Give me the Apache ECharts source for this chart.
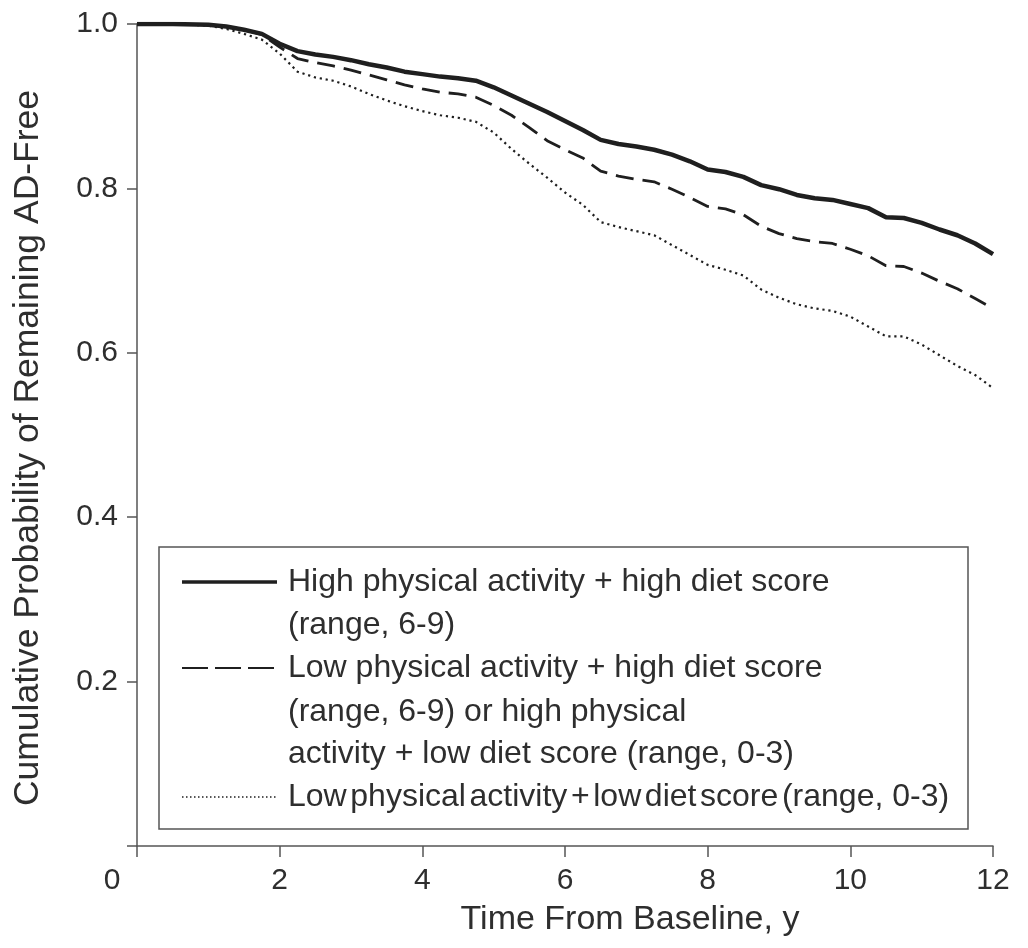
<!DOCTYPE html>
<html>
<head>
<meta charset="utf-8">
<script src="https://cdn.jsdelivr.net/npm/echarts@6/dist/echarts.min.js"></script>
<style>
html,body{margin:0;padding:0;background:#fff;}
#chart{width:1028px;height:948px;}
</style>
</head>
<body>
<div id="chart"></div>
<script>
// ---- Data ----
const times = [0, 0.5, 1.0, 1.25, 1.5, 1.75, 2.0, 2.25, 2.5, 2.75, 3.0, 3.25, 3.5, 3.75,
  4.0, 4.25, 4.5, 4.75, 5.0, 5.25, 5.5, 5.75, 6.0, 6.25, 6.5, 6.75, 7.0, 7.25, 7.5, 7.75,
  8.0, 8.25, 8.5, 8.75, 9.0, 9.25, 9.5, 9.75, 10.0, 10.25, 10.5, 10.75, 11.0, 11.25, 11.5, 11.75, 12.0];

const highPAHighDiet = [1.0, 1.0, 0.999, 0.997, 0.993, 0.988, 0.976, 0.967, 0.963, 0.960, 0.956, 0.951, 0.947, 0.942,
  0.939, 0.936, 0.934, 0.931, 0.923, 0.913, 0.903, 0.893, 0.882, 0.871, 0.859, 0.854, 0.851, 0.847, 0.841, 0.833,
  0.823, 0.820, 0.814, 0.804, 0.799, 0.792, 0.788, 0.786, 0.781, 0.776, 0.765, 0.764, 0.758, 0.750, 0.743, 0.733, 0.720];

const mixedGroup = [1.0, 1.0, 0.999, 0.997, 0.993, 0.987, 0.972, 0.958, 0.953, 0.949, 0.944, 0.938, 0.932, 0.926,
  0.921, 0.917, 0.915, 0.911, 0.901, 0.889, 0.874, 0.858, 0.847, 0.837, 0.821, 0.815, 0.811, 0.808, 0.799, 0.789,
  0.778, 0.775, 0.768, 0.754, 0.745, 0.739, 0.735, 0.733, 0.726, 0.718, 0.706, 0.705, 0.697, 0.687, 0.678, 0.666, 0.654];

const lowPALowDiet = [1.0, 1.0, 0.998, 0.994, 0.988, 0.981, 0.964, 0.942, 0.935, 0.931, 0.924, 0.915, 0.907, 0.900,
  0.894, 0.889, 0.886, 0.881, 0.868, 0.848, 0.830, 0.813, 0.795, 0.780, 0.759, 0.753, 0.748, 0.743, 0.731, 0.719,
  0.707, 0.701, 0.694, 0.677, 0.667, 0.659, 0.654, 0.651, 0.644, 0.632, 0.620, 0.620, 0.610, 0.597, 0.584, 0.573, 0.557];

const xTicks = [0, 2, 4, 6, 8, 10, 12];
const yTickLabels = ['', '0.2', '0.4', '0.6', '0.8', '1.0'];

const legendLines = [
  ['High physical activity + high diet score', '(range, 6-9)'],
  ['Low physical activity + high diet score', '(range, 6-9) or high physical', 'activity + low diet score (range, 0-3)'],
  ['Low physical activity + low diet score (range, 0-3)']
];

const xTitle = 'Time From Baseline, y';
const yTitle = 'Cumulative Probability of Remaining AD-Free';

// ---- Chart ----
const FONT = "'Liberation Sans', Arial, Helvetica, sans-serif";
const TXT = '#2e2e2e';
const AX = '#555';
const LINE = '#1f1f1f';

function pairs(ys){ return times.map((t,i)=>[t, ys[i]]); }

const chart = echarts.init(document.getElementById('chart'), null, {renderer:'canvas'});

// legend graphic
const lgLeft = 159, lgTop = 547, lgW = 809, lgH = 282;
const rowY = [582, 625, 668, 712, 754, 797];
const graphics = [
  {type:'rect', shape:{x:lgLeft, y:lgTop, width:lgW, height:lgH},
   style:{fill:'#fff', stroke:AX, lineWidth:1.5}, z:10}
];
const sampleStyles = [
  {lineWidth:3.5, lineDash:null},
  {lineWidth:2, lineDash:[26, 7]},
  {lineWidth:1.5, lineDash:[1.5, 2.5]}
];
const sampleRows = [0, 2, 5];
sampleRows.forEach((r,i)=>{
  graphics.push({type:'line', shape:{x1:182, y1:rowY[r], x2:277, y2:rowY[r]},
    style:{stroke:LINE, lineWidth:sampleStyles[i].lineWidth, lineDash:sampleStyles[i].lineDash}, z:11});
});
let row = 0;
legendLines.forEach((group, gi)=>{
  group.forEach(txt=>{
    const tight = (gi === 2);
    const t = tight ? txt.replace(/(?<!,) /g, '{s| }') : txt;
    graphics.push({type:'text', x:288, y:rowY[row],
      style:{text:t, fontFamily:FONT, fontSize:32, fill:TXT, verticalAlign:'middle', align:'left',
        rich:{s:{fontFamily:FONT, fontSize:13, fill:TXT}}}, z:11});
    row++;
  });
});

chart.setOption({
  animation:false,
  backgroundColor:'#fff',
  grid:{left:137, right:35, top:24, bottom:102, containLabel:false},
  xAxis:{
    type:'value', min:0, max:12, interval:2,
    name:xTitle, nameLocation:'middle', nameGap:57,
    nameTextStyle:{fontFamily:FONT, fontSize:34, color:TXT, padding:[0,0,0,130]},
    axisLine:{show:true, lineStyle:{color:AX, width:1.5}},
    axisTick:{show:true, length:11, lineStyle:{color:AX, width:1.5}},
    axisLabel:{
      fontFamily:FONT, fontSize:30, color:TXT, margin:20,
      formatter:(v)=> v===0 ? '{z|0}' : String(v),
      rich:{z:{fontFamily:FONT, fontSize:30, color:TXT, padding:[0,50,0,0]}}
    },
    splitLine:{show:false}
  },
  yAxis:{
    type:'value', min:0, max:1, interval:0.2,
    name:yTitle, nameLocation:'middle', nameGap:91, nameRotate:90,
    nameTextStyle:{fontFamily:FONT, fontSize:35.5, color:TXT, padding:[0,26,0,0]},
    axisLine:{show:true, lineStyle:{color:AX, width:1.5}},
    axisTick:{show:true, length:10, lineStyle:{color:AX, width:1.5}},
    axisLabel:{fontFamily:FONT, fontSize:30, color:TXT, margin:19,
      formatter:(v)=> yTickLabels[Math.round(v/0.2)]},
    splitLine:{show:false}
  },
  series:[
    {type:'line', name:legendLines[2].join(' '), data:pairs(lowPALowDiet), showSymbol:false, z:2,
     lineStyle:{color:LINE, width:2.2, type:[2.2,3.8]}},
    {type:'line', name:legendLines[1].join(' '), data:pairs(mixedGroup), showSymbol:false, z:3,
     lineStyle:{color:LINE, width:2.8, type:[18,9]}},
    {type:'line', name:legendLines[0].join(' '), data:pairs(highPAHighDiet), showSymbol:false, z:4,
     lineStyle:{color:LINE, width:4.5}}
  ],
  graphic:graphics
});
</script>
</body>
</html>
